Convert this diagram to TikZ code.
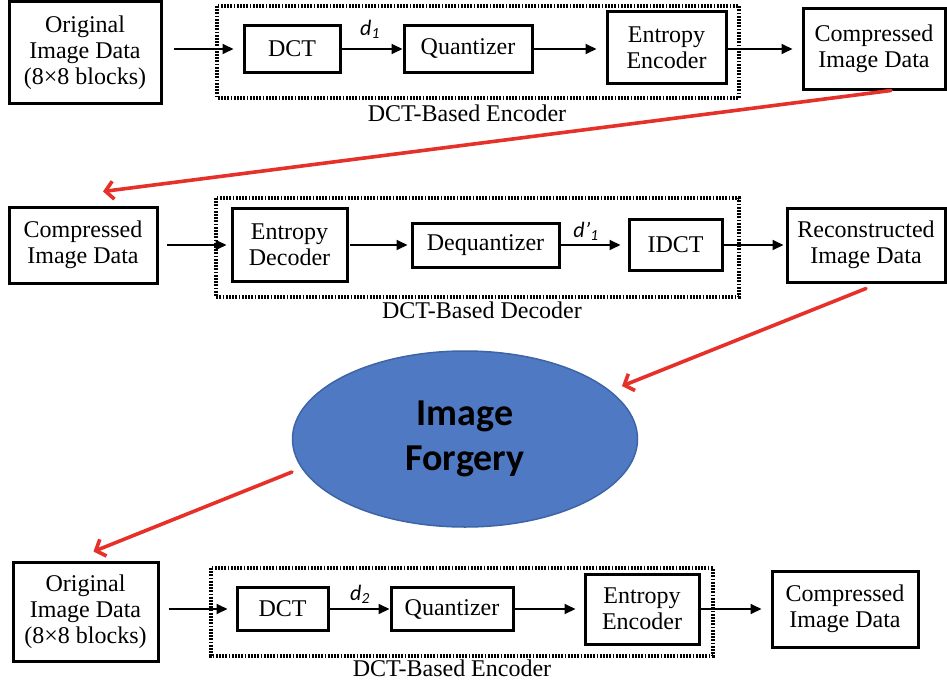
\documentclass[tikz,border=0pt]{standalone}
\usepackage{fontspec}
\setmainfont{Liberation Serif}
\newfontfamily\calibrifont{Carlito}
\usetikzlibrary{arrows.meta,shapes.geometric,calc}

\definecolor{forgeblue}{HTML}{5079C4}
\definecolor{forgeedge}{HTML}{3C64A6}
\definecolor{flowred}{HTML}{E5312A}

\tikzset{
  box/.style={draw, line width=3pt, fill=white, align=center, inner sep=0pt,
    font=\fontsize{24}{26}\selectfont},
  stage/.style={draw, line width=3.4pt, dash pattern=on 1.8pt off 1.4pt},
  stagelabel/.style={font=\fontsize{24}{26}\selectfont},
  arr/.style={line width=1.8pt, -{Triangle[length=11pt,width=10pt]}},
  flow/.style={draw=flowred, line width=3.6pt, line cap=round,
    -{Straight Barb[length=8pt,width=18pt,line width=3.6pt]}},
  sym/.style={font=\calibrifont\itshape\fontsize{22}{24}\selectfont},
}

\begin{document}
\begin{tikzpicture}[x=1pt,y=-1pt]
\useasboundingbox (0,0) rectangle (947,685);

% ---------- first encoder ----------
\draw[stage] (217,6) rectangle (739,98);
\node[stagelabel] (lab1) at (467,113) {DCT-Based Encoder};
\node[box, minimum width=152pt, minimum height=101pt] (orig1) at (85,52.5)
  {Original\\Image Data\\(8\texttimes8 blocks)};
\node[box, minimum width=96pt, minimum height=46pt] (dct1) at (292,49) {DCT};
\node[box, minimum width=128pt, minimum height=46pt] (quant1) at (468,49) {Quantizer};
\node[box, minimum width=119pt, minimum height=71pt] (ent1) at (666.5,47.5) {Entropy\\Encoder};
\node[box, minimum width=142pt, minimum height=80pt] (comp1) at (874,49) {Compressed\\Image Data};
\node[sym] (d1) at (370,29) {d\textsubscript{1}};

\draw[arr, shorten <=11pt, shorten >=9pt] (orig1.east |- dct1.west) -- (dct1.west);
\draw[arr] (dct1.east) -- (quant1.west);
\draw[arr, shorten >=9pt] (quant1.east) -- (quant1.east -| ent1.west);
\draw[arr, shorten >=9pt] (ent1.east |- comp1.west) -- (comp1.west);

% ---------- decoder ----------
\draw[stage] (216,198) rectangle (739,297);
\node[stagelabel] (lab2) at (482,310) {DCT-Based Decoder};
\node[box, minimum width=148pt, minimum height=76pt] (comp2) at (83,245) {Compressed\\Image Data};
\node[box, minimum width=115pt, minimum height=73pt] (entD) at (289.5,245) {Entropy\\Decoder};
\node[box, minimum width=147pt, minimum height=44pt] (deq) at (485.5,245) {Dequantizer};
\node[box, minimum width=93pt, minimum height=51pt] (idct) at (675.5,245) {IDCT};
\node[box, minimum width=158pt, minimum height=74pt] (recon) at (866,245) {Reconstructed\\Image Data};
\node[sym] (dp1) at (586,231) {d’\textsubscript{1}};

\draw[arr, shorten <=8pt, shorten >=4pt] (comp2.east) -- (entD.west);
\draw[arr, shorten <=1pt, shorten >=3pt] (entD.east) -- (deq.west);
\draw[arr, shorten >=7pt] (deq.east) -- (idct.west);
\draw[arr, shorten >=2pt] (idct.east) -- (recon.west);

% ---------- forgery ----------
\node[ellipse, draw=forgeedge, line width=1.5pt, fill=forgeblue,
  minimum width=345pt, minimum height=176pt, inner sep=0pt, align=center,
  font=\calibrifont\bfseries\fontsize{38}{45}\selectfont] (forge) at (465,439)
  {Image\\Forgery};

% ---------- second encoder ----------
\draw[stage] (211,568) rectangle (713,656);
\node[stagelabel] (lab3) at (452,668) {DCT-Based Encoder};
\node[box, minimum width=145pt, minimum height=99pt] (orig3) at (85.5,611.5)
  {Original\\Image Data\\(8\texttimes8 blocks)};
\node[box, minimum width=91pt, minimum height=43pt] (dct3) at (282.5,609) {DCT};
\node[box, minimum width=122pt, minimum height=43pt] (quant3) at (452,609) {Quantizer};
\node[box, minimum width=114pt, minimum height=70pt] (ent3) at (642,609) {Entropy\\Encoder};
\node[box, minimum width=146pt, minimum height=76pt] (comp3) at (845,609) {Compressed\\Image Data};
\node[sym] (d2) at (360,594) {d\textsubscript{2}};

\draw[arr, shorten <=9pt, shorten >=8pt] (orig3.east |- dct3.west) -- (dct3.west);
\draw[arr] (dct3.east) -- (quant3.west);
\draw[arr, shorten >=8pt] (quant3.east) -- (ent3.west);
\draw[arr, shorten >=9pt] (ent3.east) -- (comp3.west);

% ---------- red hand-over arrows ----------
\coordinate (r1a) at ($(comp1.south)+(17,0)$);
\coordinate (r1b) at ($(comp2.north)+(20,-14)$);
\draw[flow] (r1a) -- (r1b);
\coordinate (r2a) at ($(recon.south)+(0,5)$);
\coordinate (r2b) at (622,386);
\draw[flow] (r2a) -- (r2b);
\coordinate (r3a) at (292,472);
\coordinate (r3b) at ($(orig3.north)+(8,-9)$);
\draw[flow] (r3a) -- (r3b);
\end{tikzpicture}
\end{document}
